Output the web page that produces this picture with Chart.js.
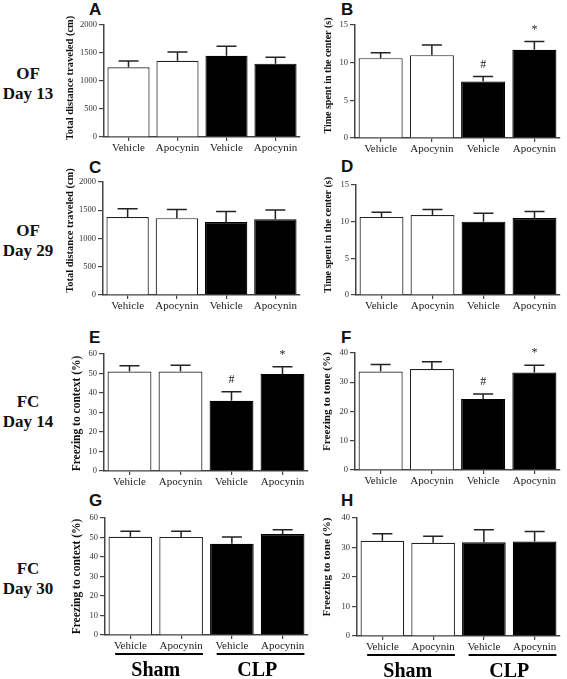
<!DOCTYPE html>
<html><head><meta charset="utf-8">
<script src="https://cdn.jsdelivr.net/npm/chart.js@4.4.0/dist/chart.umd.min.js"></script>
<style>
body{margin:0;background:#fff;width:567px;height:679px;position:relative;overflow:hidden;}
canvas{position:absolute;}
.row{position:absolute;left:0;width:56px;text-align:center;font-family:'Liberation Serif','Times New Roman',serif;font-weight:bold;font-size:17px;line-height:20px;color:#111;}
.let{position:absolute;font-family:'Liberation Sans',Arial,sans-serif;font-weight:bold;font-size:17px;line-height:17px;color:#111;}
</style></head><body>
<div class="row" style="top:64px">OF<br>Day 13</div>
<div class="row" style="top:221px">OF<br>Day 29</div>
<div class="row" style="top:392px">FC<br>Day 14</div>
<div class="row" style="top:559px">FC<br>Day 30</div>
<div class="let" style="left:89px;top:1px">A</div>
<div class="let" style="left:341px;top:1px">B</div>
<div class="let" style="left:89px;top:159px">C</div>
<div class="let" style="left:341px;top:158px">D</div>
<div class="let" style="left:89px;top:329px">E</div>
<div class="let" style="left:341px;top:329px">F</div>
<div class="let" style="left:89px;top:492px">G</div>
<div class="let" style="left:341px;top:492px">H</div>
<script>
// ---- data ----
const categories = ['Vehicle', 'Apocynin', 'Vehicle', 'Apocynin'];
const groupNames = ['Sham', 'CLP'];
const distDay13 = [1245, 1360, 1450, 1310];
const distDay13Err = [110, 160, 170, 115];
const centerDay13 = [10.6, 11.0, 7.5, 11.7];
const centerDay13Err = [0.7, 1.35, 0.65, 1.1];
const distDay29 = [1380, 1360, 1290, 1340];
const distDay29Err = [145, 155, 190, 165];
const centerDay29 = [10.65, 10.9, 10.0, 10.5];
const centerDay29Err = [0.65, 0.75, 1.15, 0.9];
const contextDay14 = [51, 51, 36, 49.8];
const contextDay14Err = [3, 3.2, 4.7, 3.7];
const toneDay14 = [33.7, 34.5, 24.3, 33.3];
const toneDay14Err = [2.4, 2.5, 1.7, 2.5];
const contextDay30 = [50.4, 50.3, 46.8, 51.8];
const contextDay30Err = [2.8, 2.9, 3.4, 2.2];
const toneDay30 = [32.3, 31.6, 31.8, 32.0];
const toneDay30Err = [2.4, 2.2, 4.2, 3.4];
const distTicks = [0, 500, 1000, 1500, 2000];
const centerTicks = [0, 5, 10, 15];
const contextTicks = [0, 10, 20, 30, 40, 50, 60];
const toneTicks = [0, 10, 20, 30, 40];
const sigMarks = ['', '', '#', '*'];
const noMarks = ['', '', '', ''];

// ---- styling ----
const SERIF = "'Liberation Serif','Times New Roman',serif";
Chart.defaults.font.family = SERIF;
const fills = ['#ffffff', '#ffffff', '#000000', '#000000'];
const borders = ['#222222', '#222222', '#000000', '#000000'];

const decor = {
  id: 'decor',
  afterDatasetsDraw(chart, args, o) {
    const ctx = chart.ctx, y = chart.scales.y;
    const meta = chart.getDatasetMeta(0);
    const vals = chart.data.datasets[0].data;
    ctx.save();
    ctx.strokeStyle = '#222';
    ctx.lineWidth = 1.5;
    meta.data.forEach((bar, i) => {
      const t = y.getPixelForValue(vals[i]);
      const e = y.getPixelForValue(vals[i] + o.errs[i]);
      ctx.beginPath();
      ctx.moveTo(bar.x, t); ctx.lineTo(bar.x, e);
      ctx.moveTo(bar.x - 10, e); ctx.lineTo(bar.x + 10, e);
      ctx.stroke();
      if (o.marks[i]) {
        ctx.fillStyle = '#222';
        ctx.font = '12px ' + SERIF;
        ctx.textAlign = 'center';
        ctx.textBaseline = 'middle';
        ctx.fillText(o.marks[i], bar.x, e - 12);
      }
    });
    ctx.restore();
  },
  afterDraw(chart, args, o) {
    const ctx = chart.ctx, ca = chart.chartArea;
    ctx.save();
    ctx.translate(ca.left - o.tOff, (ca.top + ca.bottom) / 2 + o.dy);
    ctx.rotate(-Math.PI / 2);
    ctx.font = 'bold ' + o.tSize + 'px ' + SERIF;
    ctx.fillStyle = '#111';
    ctx.textAlign = 'center';
    ctx.textBaseline = 'middle';
    ctx.fillText(o.title, 0, 0);
    ctx.restore();
    if (o.groups) {
      const x = chart.scales.x;
      ctx.save();
      ctx.fillStyle = '#000';
      ctx.strokeStyle = '#000';
      ctx.lineWidth = 2;
      const cat = x.getPixelForValue(1) - x.getPixelForValue(0);
      groupNames.forEach((g, k) => {
        const a = x.getPixelForValue(2 * k), b = x.getPixelForValue(2 * k + 1);
        ctx.beginPath();
        ctx.moveTo(a - 0.3 * cat, ca.bottom + 19);
        ctx.lineTo(b + 0.43 * cat, ca.bottom + 19);
        ctx.stroke();
        ctx.font = 'bold 20px ' + SERIF;
        ctx.textAlign = 'center';
        ctx.textBaseline = 'alphabetic';
        ctx.fillText(g, (a + b) / 2, ca.bottom + 41);
      });
      ctx.restore();
    }
  }
};

const panels = [
  {values: distDay13, errs: distDay13Err, ticks: distTicks, marks: noMarks, title: 'Total distance traveled (cm)', ax: 104, right: 300, top: 25, bottom: 137, tOff: 34, dy: -3, tSize: 10.5, col: 0},
  {values: centerDay13, errs: centerDay13Err, ticks: centerTicks, marks: sigMarks, title: 'Time spent in the center (s)', ax: 355, right: 560, top: 25, bottom: 138, tOff: 27, dy: -6, tSize: 10, col: 1},
  {values: distDay29, errs: distDay29Err, ticks: distTicks, marks: noMarks, title: 'Total distance traveled (cm)', ax: 103, right: 300, top: 182, bottom: 295, tOff: 33, dy: -8, tSize: 10.5, col: 0},
  {values: centerDay29, errs: centerDay29Err, ticks: centerTicks, marks: noMarks, title: 'Time spent in the center (s)', ax: 356, right: 560, top: 185, bottom: 295, tOff: 28, dy: -5, tSize: 10, col: 1},
  {values: contextDay14, errs: contextDay14Err, ticks: contextTicks, marks: sigMarks, title: 'Freezing to context (%)', ax: 104, right: 308, top: 354, bottom: 471, tOff: 27, dy: 1, tSize: 11.5, col: 0},
  {values: toneDay14, errs: toneDay14Err, ticks: toneTicks, marks: sigMarks, title: 'Freezing to tone (%)', ax: 355, right: 560, top: 353, bottom: 470, tOff: 28, dy: -10, tSize: 11.3, col: 1},
  {values: contextDay30, errs: contextDay30Err, ticks: contextTicks, marks: noMarks, title: 'Freezing to context (%)', ax: 105, right: 308, top: 518, bottom: 635, tOff: 28, dy: 0, tSize: 11.5, col: 0, groups: true},
  {values: toneDay30, errs: toneDay30Err, ticks: toneTicks, marks: noMarks, title: 'Freezing to tone (%)', ax: 357, right: 560, top: 518, bottom: 636, tOff: 30, dy: -10, tSize: 11.3, col: 1, groups: true}
];

function makeChart(p) {
  const YW = p.col === 0 ? 50 : 40;
  const PT = 20, PR = 4, XH = 22;
  const cl = p.ax - YW, ct = p.top - PT;
  const cb = p.groups ? 679 : p.bottom + XH;
  const cw = p.right + PR - cl, ch = cb - ct;
  const cv = document.createElement('canvas');
  cv.width = cw; cv.height = ch;
  cv.style.left = cl + 'px'; cv.style.top = ct + 'px';
  cv.style.width = cw + 'px'; cv.style.height = ch + 'px';
  document.body.appendChild(cv);
  const maxV = p.ticks[p.ticks.length - 1];
  new Chart(cv, {
    type: 'bar',
    data: {labels: categories, datasets: [{data: p.values, backgroundColor: fills, borderColor: borders, borderWidth: 1.2, barPercentage: 0.86, categoryPercentage: 1}]},
    options: {
      responsive: false, animation: false, devicePixelRatio: 1,
      layout: {padding: {top: PT, right: PR, left: 0, bottom: cb - p.bottom - XH}},
      plugins: {legend: {display: false}, tooltip: {enabled: false},
        decor: {errs: p.errs, marks: p.marks, title: p.title, tOff: p.tOff, dy: p.dy, tSize: p.tSize, groups: !!p.groups}},
      scales: {
        x: {
          grid: {display: true, drawOnChartArea: false, drawTicks: true, tickLength: 4, offset: false, color: '#444', lineWidth: 1.2},
          border: {display: true, color: '#444', width: 1.5},
          ticks: {padding: 1, font: {family: SERIF, size: 11}, color: '#222', maxRotation: 0, autoSkip: false},
          afterFit(s) { s.height = XH; }
        },
        y: {
          min: 0, max: maxV,
          grid: {display: true, drawOnChartArea: false, drawTicks: true, tickLength: 5, color: '#444', lineWidth: 1.2},
          border: {display: true, color: '#444', width: 1.5},
          ticks: {padding: 2, font: {family: SERIF, size: 8.5}, color: '#333', callback: v => String(v)},
          afterBuildTicks(s) { s.ticks = p.ticks.map(v => ({value: v})); },
          afterFit(s) { s.width = YW; }
        }
      }
    },
    plugins: [decor]
  });
}
panels.forEach(makeChart);
</script>
</body></html>
